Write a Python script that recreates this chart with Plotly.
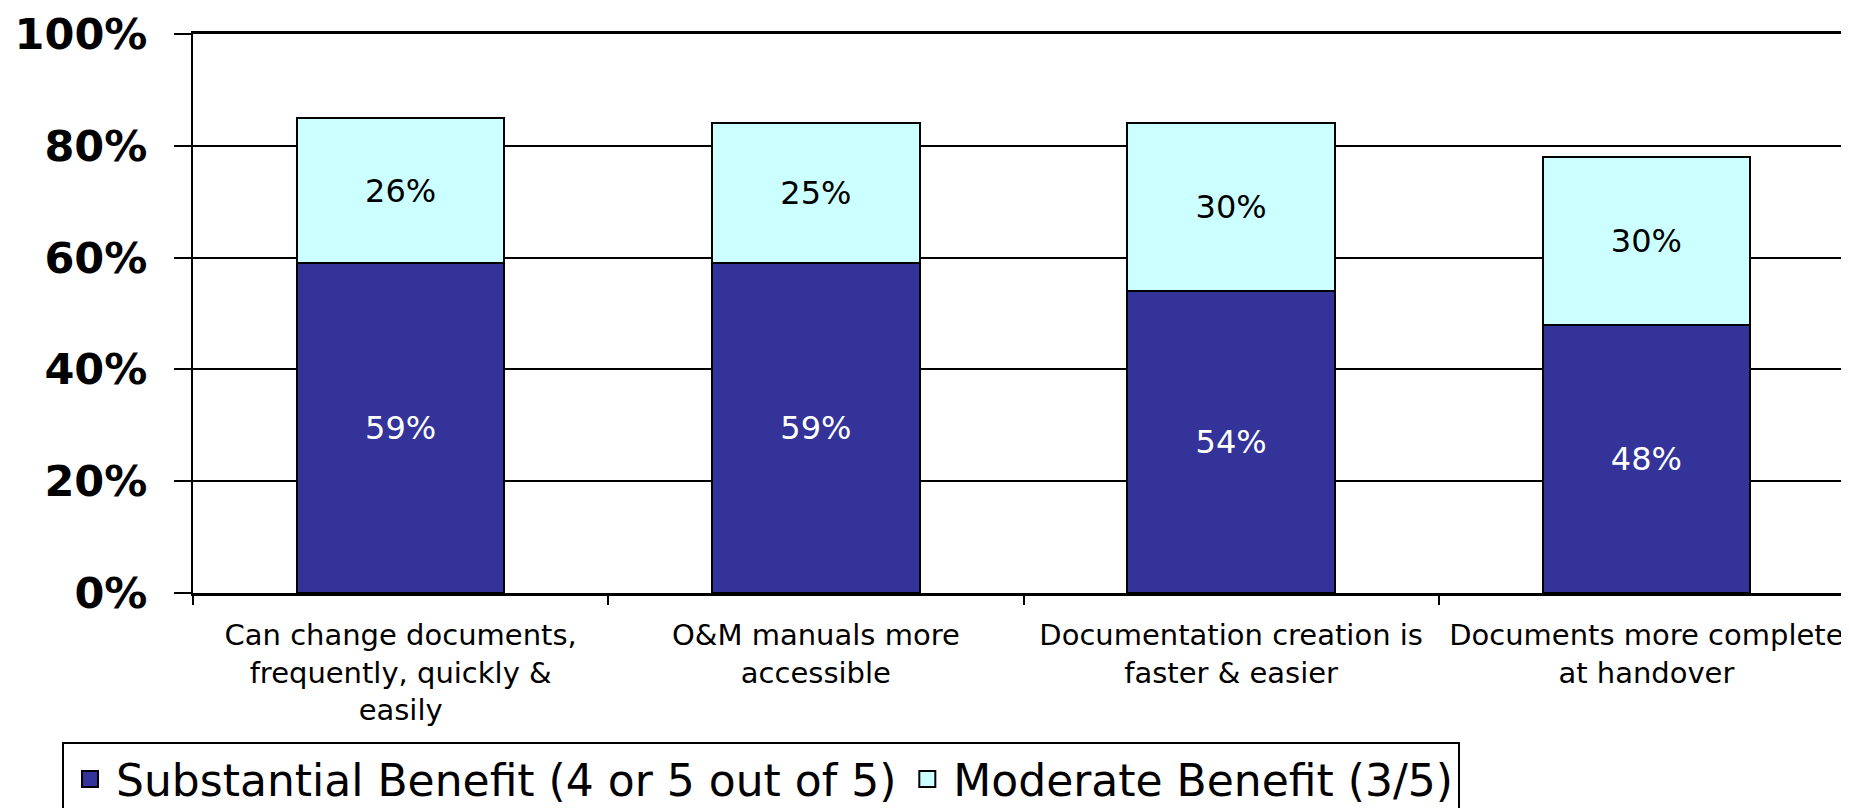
import plotly.graph_objects as go

# Colours from the original Excel-style chart
DARK_BLUE = "#333399"
LIGHT_CYAN = "#CCFFFF"
FONT = "DejaVu Sans"

categories = [
    "Can change documents,<br>frequently, quickly &<br>easily",
    "O&M manuals more<br>accessible",
    "Documentation creation is<br>faster & easier",
    "Documents more complete<br>at handover",
]
series_names = ["Substantial Benefit (4 or 5 out of 5)", "Moderate Benefit (3/5)"]
substantial = [59, 59, 54, 48]
moderate = [26, 25, 30, 30]

W, H = 1849, 808

fig = go.Figure()

series = [(substantial, DARK_BLUE, "white"), (moderate, LIGHT_CYAN, "black")]
for name, (vals, col, tcol) in zip(series_names, series):
    fig.add_trace(go.Bar(
        x=categories, y=vals, name=name, showlegend=False,
        marker=dict(color=col, line=dict(color="black", width=2)),
        text=[f"{v}%" for v in vals],
        textposition="inside", insidetextanchor="middle",
        textfont=dict(family=FONT, size=32, color=tcol),
    ))
    # legend proxy so the key gets a bigger square symbol
    fig.add_trace(go.Scatter(
        x=[None], y=[None], mode="markers", name=name,
        marker=dict(symbol="square", size=16, color=col,
                    line=dict(color="black", width=2)),
    ))

# plot area: x 185..1846, y 26..585
ml, mr, mt, mb = 185, 3, 26, 223
pw, ph = W - ml - mr, H - mt - mb

fig.update_layout(
    width=W, height=H,
    barmode="stack", bargap=0.5,
    paper_bgcolor="white", plot_bgcolor="white",
    margin=dict(l=ml, r=mr, t=mt, b=mb, autoexpand=False),
    font=dict(family=FONT, color="black"),
    legend=dict(
        orientation="h",
        x=(54 - ml) / pw, xanchor="left",
        y=-(734 - (H - mb)) / ph, yanchor="top",
        font=dict(family=FONT, size=44, color="black"),
        bordercolor="black", borderwidth=2,
        bgcolor="white", traceorder="normal",
        itemwidth=42,
    ),
)

fig.update_yaxes(
    range=[0, 100], dtick=20, ticksuffix="%",
    showgrid=True, gridcolor="black", gridwidth=2,
    showline=True, linecolor="black", linewidth=2, mirror=True,
    ticks="outside", ticklen=17, tickwidth=2, tickcolor="black",
    tickfont=dict(family=FONT, size=43, color="black", weight="bold"),
    ticklabelstandoff=18, ticklabeloverflow="allow",
    zeroline=False,
)
fig.update_xaxes(
    showline=True, linecolor="black", linewidth=3, mirror=True,
    ticks="outside", ticklen=9, tickwidth=2, tickcolor="black",
    tickson="boundaries",
    tickfont=dict(family=FONT, size=29, color="black"),
    ticklabelstandoff=14,
)

fig.write_html("out.html")
